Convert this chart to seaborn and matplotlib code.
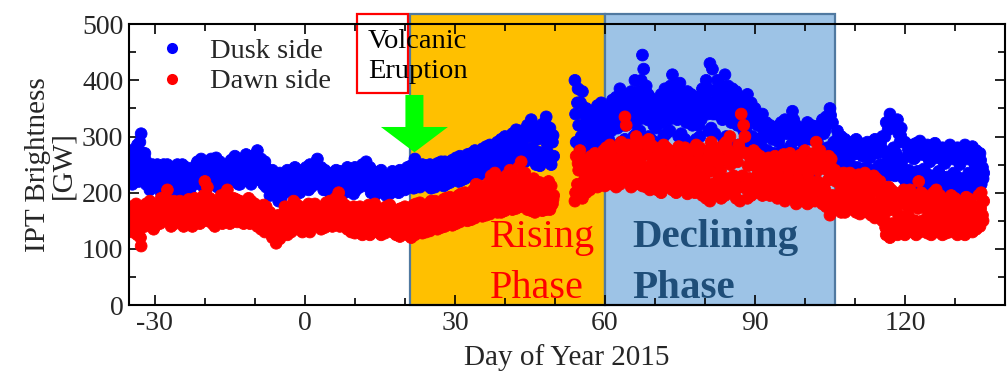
import numpy as np
import pandas as pd
import matplotlib
matplotlib.use("Agg")
import matplotlib.pyplot as plt
from matplotlib.patches import Rectangle, FancyArrow
from matplotlib.lines import Line2D
from matplotlib.ticker import MultipleLocator
import seaborn as sns

# ---------------- data (GW) ----------------
pre_days = list(range(-35, 50))     # day -35 .. 49
post_days = list(range(54, 136))    # day 54 .. 135
sub_day = np.array([0.0, 0.25, 0.5, 0.75])          # main samples, 4 per day
sub_order = [[0, 1, 2, 3], [2, 0, 3, 1], [1, 3, 0, 2]]
extra_sub = np.array([0.125, 0.625])                # extra samples, 2 per day

dusk_pre = [
    230, 275, 215, 255,  285, 240, 220, 265,  305, 250, 290, 225,  270, 215, 245, 230,
    250, 205, 235, 220,  245, 210, 230, 250,  240, 200, 225, 250,  250, 215, 235, 205,
    245, 200, 230, 220,  235, 195, 250, 215,  250, 210, 230, 200,  245, 205, 225, 240,
    200, 235, 190, 220,  255, 215, 240, 225,  260, 210, 235, 250,  245, 205, 255, 225,
    250, 215, 235, 260,  262, 220, 240, 210,  255, 215, 245, 230,  250, 210, 240, 225,
    258, 220, 235, 250,  265, 225, 245, 215,  260, 215, 240, 250,  268, 220, 245, 230,
    255, 215, 265, 235,  275, 225, 250, 265,  260, 215, 245, 230,  255, 210, 235, 225,
    240, 195, 220, 205,  230, 185, 215, 200,  235, 190, 220, 205,  240, 200, 225, 210,
    235, 200, 220, 210,  245, 205, 225, 235,  240, 200, 220, 230,  245, 205, 230, 215,
    250, 210, 235, 220,  260, 215, 240, 230,  245, 205, 225, 235,  240, 205, 220, 230,
    235, 200, 225, 215,  240, 210, 230, 220,  238, 205, 225, 215,  245, 200, 230, 215,
    240, 198, 220, 230,  245, 205, 225, 215,  250, 210, 235, 220,  255, 210, 240, 225,
    245, 200, 230, 215,  235, 195, 220, 205,  240, 200, 225, 210,  230, 195, 215, 205,
    238, 198, 220, 228,  235, 200, 215, 225,  240, 205, 225, 215,  245, 205, 230, 220,
    248, 208, 235, 220,  260, 210, 240, 225,  250, 210, 235, 225,  248, 212, 232, 222,
    250, 208, 235, 220,  252, 210, 238, 225,  255, 212, 240, 228,  255, 215, 240, 230,
    258, 218, 245, 232,  262, 220, 248, 235,  265, 222, 250, 238,  268, 225, 255, 240,
    270, 228, 258, 245,  275, 230, 260, 248,  278, 232, 262, 250,  282, 235, 265, 252,
    285, 238, 268, 255,  290, 240, 272, 258,  295, 242, 278, 262,  300, 245, 280, 265,
    305, 250, 285, 270,  312, 252, 290, 272,  310, 248, 288, 270,  320, 255, 300, 275,
    330, 258, 305, 280,  318, 250, 295, 272,  322, 248, 300, 270,  335, 255, 310, 285,
    315, 250, 290, 265,
]
dusk_pre_extra = [
    242, 265,  230, 252,  238, 270,  222, 258,  212, 242,  220, 238,  212, 232,  225, 242,
    210, 238,  205, 225,  220, 240,  215, 232,  210, 228,  232, 248,  222, 242,  215, 235,
    225, 242,  230, 250,  222, 238,  218, 232,  228, 242,  235, 255,  228, 245,  238, 255,
    225, 245,  238, 258,  222, 238,  218, 245,  212, 230,  192, 222,  198, 228,  218, 232,
    205, 228,  215, 240,  210, 235,  222, 238,  228, 242,  222, 250,  215, 240,  212, 235,
    208, 230,  215, 235,  210, 232,  208, 238,  210, 235,  210, 235,  215, 242,  218, 248,
    208, 238,  200, 228,  205, 232,  200, 222,  208, 232,  208, 230,  210, 232,  212, 238,
    215, 242,  218, 250,  218, 242,  218, 240,  214, 242,  218, 245,  220, 248,  222, 248,
    225, 252,  228, 255,  230, 258,  232, 262,  236, 264,  238, 268,  240, 270,  244, 274,
    246, 276,  248, 280,  252, 286,  255, 290,  260, 295,  262, 300,  260, 298,  265, 310,
    268, 318,  262, 306,  258, 310,  270, 322,  258, 302,
]

dusk_post = [
    400, 290, 360, 320,  380, 280, 340, 300,  350, 275, 320, 295,  345, 270, 315, 290,
    355, 280, 325, 300,  360, 285, 330, 305,  350, 275, 335, 295,  365, 280, 340, 310,
    370, 285, 345, 315,  385, 290, 350, 320,  375, 295, 345, 320,  380, 300, 350, 325,
    400, 305, 360, 330,  445, 310, 420, 400,  390, 300, 360, 330,  370, 295, 345, 320,
    365, 290, 340, 315,  375, 300, 350, 325,  385, 305, 360, 330,  410, 310, 370, 340,
    390, 300, 360, 330,  395, 305, 365, 335,  380, 295, 355, 325,  375, 290, 350, 320,
    370, 295, 345, 320,  385, 300, 360, 330,  400, 310, 370, 340,  430, 315, 420, 380,
    400, 305, 370, 340,  390, 295, 360, 330,  410, 300, 370, 340,  385, 290, 355, 325,
    380, 285, 350, 320,  370, 280, 340, 310,  375, 275, 345, 315,  360, 270, 330, 300,
    350, 265, 320, 295,  340, 255, 310, 285,  325, 250, 300, 275,  320, 245, 295, 270,
    318, 245, 290, 268,  325, 250, 300, 275,  330, 248, 305, 278,  345, 250, 330, 285,
    320, 245, 295, 270,  315, 240, 290, 265,  325, 245, 300, 270,  320, 240, 295, 268,
    318, 238, 290, 265,  330, 245, 305, 275,  335, 250, 310, 280,  350, 255, 325, 290,
    310, 240, 285, 262,  300, 235, 275, 255,  295, 230, 270, 250,  290, 228, 268, 248,
    295, 225, 270, 245,  288, 220, 265, 242,  290, 222, 268, 245,  285, 218, 262, 240,
    295, 225, 270, 248,  300, 225, 275, 250,  325, 230, 300, 265,  340, 235, 315, 280,
    330, 230, 305, 270,  315, 225, 290, 258,  290, 215, 265, 240,  285, 210, 260, 235,
    288, 212, 262, 238,  292, 215, 268, 242,  285, 210, 260, 235,  280, 208, 255, 230,
    288, 210, 262, 238,  280, 205, 255, 230,  278, 205, 252, 228,  285, 210, 260, 235,
    280, 205, 255, 230,  275, 200, 250, 225,  285, 208, 260, 235,  282, 205, 255, 230,
    275, 210, 250, 232,  270, 215, 245, 235,
]
dusk_post_extra = [
    340, 385,  320, 360,  308, 335,  302, 332,  312, 342,  318, 347,  315, 345,  325, 352,
    330, 358,  335, 368,  332, 360,  338, 365,  345, 380,  340, 370,  345, 375,  332, 358,
    328, 352,  338, 362,  345, 372,  355, 390,  345, 375,  350, 380,  340, 368,  335, 362,
    332, 358,  345, 372,  355, 385,  340, 360,  355, 385,  345, 375,  355, 390,  340, 370,
    335, 365,  325, 355,  295, 360,  285, 345,  280, 335,  270, 325,  262, 312,  258, 308,
    256, 305,  262, 312,  262, 318,  268, 308,  258, 308,  252, 302,  258, 312,  254, 308,
    252, 304,  260, 318,  265, 322,  272, 338,  252, 298,  245, 288,  240, 282,  238, 280,
    235, 282,  232, 276,  234, 280,  230, 274,  236, 282,  238, 288,  248, 312,  258, 328,
    250, 318,  242, 302,  228, 278,  222, 272,  225, 275,  228, 280,  222, 272,  220, 268,
    224, 275,  218, 268,  216, 265,  222, 272,  218, 268,  212, 262,  220, 272,  218, 268,
    221, 262,  225, 258,
]

dawn_pre = [
    150, 175, 130, 160,  125, 170, 145, 180,  105, 160, 135, 175,  140, 180, 155, 165,
    145, 185, 135, 170,  150, 180, 140, 165,  145, 190, 155, 170,  205, 150, 180, 160,
    140, 185, 160, 170,  145, 180, 155, 170,  150, 185, 140, 168,  145, 188, 160, 172,
    150, 180, 140, 165,  148, 190, 160, 175,  155, 195, 145, 175,  220, 150, 210, 170,
    145, 190, 160, 175,  150, 185, 140, 170,  155, 195, 145, 175,  205, 150, 190, 165,
    150, 190, 145, 170,  155, 188, 148, 172,  150, 185, 145, 168,  148, 190, 155, 175,
    145, 185, 150, 170,  140, 180, 150, 165,  135, 178, 148, 162,  130, 175, 145, 160,
    120, 165, 135, 150,  110, 160, 125, 145,  118, 155, 130, 145,  125, 175, 140, 160,
    130, 185, 145, 165,  135, 180, 150, 165,  130, 175, 145, 160,  135, 180, 150, 165,
    130, 178, 148, 162,  140, 180, 150, 168,  135, 175, 145, 160,  138, 182, 150, 168,
    140, 185, 155, 170,  145, 200, 160, 180,  140, 185, 150, 170,  135, 178, 148, 162,
    130, 175, 145, 160,  128, 172, 142, 158,  125, 175, 140, 160,  130, 178, 145, 162,
    125, 170, 140, 155,  130, 180, 145, 165,  125, 172, 140, 158,  128, 175, 142, 160,
    130, 178, 145, 162,  125, 170, 140, 155,  122, 172, 138, 158,  125, 175, 140, 160,
    120, 178, 138, 162,  125, 180, 142, 165,  128, 182, 145, 168,  130, 180, 148, 165,
    132, 185, 150, 170,  135, 185, 152, 170,  138, 188, 155, 172,  140, 190, 158, 175,
    142, 192, 160, 178,  145, 195, 162, 180,  148, 198, 165, 182,  150, 200, 168, 185,
    152, 205, 170, 188,  155, 215, 172, 195,  158, 212, 175, 195,  160, 218, 178, 200,
    162, 230, 180, 205,  165, 235, 185, 210,  165, 225, 185, 205,  168, 230, 190, 210,
    170, 240, 192, 215,  172, 245, 195, 220,  175, 255, 200, 230,  170, 235, 190, 210,
    168, 225, 185, 205,  165, 220, 182, 200,  168, 218, 180, 198,  170, 220, 185, 200,
    170, 212, 180, 195,
]
dawn_pre_extra = [
    140, 168,  135, 158,  120, 148,  148, 172,  158, 178,  158, 172,  162, 180,  170, 192,
    150, 178,  162, 175,  158, 176,  152, 180,  158, 172,  155, 182,  165, 185,  160, 190,
    152, 182,  160, 178,  165, 185,  158, 178,  160, 180,  164, 180,  158, 176,  165, 182,
    160, 178,  158, 172,  155, 170,  152, 168,  128, 158,  135, 152,  124, 138,  150, 168,
    155, 175,  142, 172,  138, 168,  142, 172,  140, 170,  160, 174,  152, 168,  160, 175,
    162, 178,  170, 190,  160, 178,  155, 170,  138, 168,  135, 165,  150, 168,  138, 170,
    132, 162,  155, 172,  132, 165,  150, 168,  138, 170,  148, 162,  130, 165,  150, 168,
    130, 150,  155, 172,  136, 158,  155, 172,  160, 178,  143, 162,  165, 180,  148, 168,
    170, 185,  152, 172,  175, 190,  158, 178,  180, 196,  162, 185,  185, 204,  168, 190,
    192, 218,  175, 198,  195, 215,  178, 200,  182, 228,  185, 208,  188, 215,  180, 222,
    176, 195,  172, 210,  174, 190,  178, 210,  175, 188,
]

dawn_post = [
    185, 265, 215, 240,  190, 275, 220, 250,  200, 260, 225, 245,  205, 265, 230, 250,
    210, 270, 235, 255,  215, 275, 240, 258,  212, 280, 238, 260,  215, 285, 240, 262,
    210, 280, 235, 260,  215, 290, 240, 265,  220, 335, 250, 320,  210, 285, 240, 262,
    215, 300, 245, 270,  212, 290, 240, 265,  210, 295, 238, 268,  205, 285, 235, 260,
    205, 280, 232, 258,  200, 285, 230, 260,  210, 280, 235, 258,  205, 275, 230, 255,
    200, 282, 228, 258,  205, 275, 230, 255,  198, 280, 225, 255,  205, 278, 230, 255,
    200, 285, 228, 258,  195, 280, 225, 255,  190, 275, 220, 250,  185, 290, 215, 260,
    195, 280, 225, 255,  190, 285, 220, 258,  195, 290, 225, 262,  200, 300, 230, 270,
    190, 285, 220, 255,  185, 340, 230, 320,  190, 300, 225, 270,  195, 275, 225, 250,
    200, 270, 230, 250,  195, 265, 225, 245,  200, 262, 228, 245,  195, 260, 225, 242,
    190, 265, 220, 245,  195, 268, 225, 248,  185, 262, 215, 240,  190, 270, 220, 248,
    180, 265, 210, 240,  185, 268, 215, 242,  180, 275, 212, 250,  185, 270, 215, 245,
    185, 290, 220, 260,  180, 275, 210, 250,  175, 265, 205, 240,  160, 260, 195, 235,
    170, 240, 195, 220,  165, 235, 190, 215,  165, 230, 188, 210,  170, 235, 192, 215,
    165, 232, 190, 212,  162, 230, 185, 210,  165, 235, 190, 215,  160, 230, 185, 210,
    155, 225, 180, 205,  150, 220, 175, 200,  125, 210, 150, 185,  120, 205, 145, 180,
    125, 200, 148, 178,  130, 205, 150, 180,  125, 200, 148, 175,  130, 205, 150, 180,
    125, 220, 150, 195,  130, 200, 150, 178,  128, 195, 148, 175,  125, 200, 145, 178,
    130, 205, 150, 180,  125, 195, 145, 172,  128, 190, 148, 170,  130, 195, 150, 175,
    125, 190, 145, 170,  128, 185, 148, 168,  125, 192, 145, 170,  130, 188, 148, 168,
    135, 195, 155, 175,  140, 200, 160, 185,
]
dawn_post_extra = [
    200, 252,  205, 262,  212, 235,  218, 258,  222, 245,  228, 266,  225, 250,  228, 272,
    222, 248,  228, 278,  235, 285,  225, 272,  230, 285,  226, 252,  224, 282,  220, 248,
    218, 270,  215, 245,  222, 268,  218, 242,  214, 270,  218, 242,  212, 268,  218, 242,
    214, 272,  210, 240,  205, 262,  200, 238,  210, 268,  205, 240,  210, 276,  215, 250,
    205, 270,  210, 275,  208, 248,  210, 262,  215, 240,  210, 255,  214, 236,  210, 252,
    205, 232,  210, 258,  200, 228,  205, 258,  195, 225,  200, 255,  196, 232,  200, 258,
    202, 240,  195, 262,  190, 222,  178, 248,  182, 230,  178, 202,  176, 220,  180, 204,
    178, 222,  174, 198,  178, 225,  172, 198,  168, 215,  162, 188,  138, 168,  132, 192,
    136, 162,  140, 192,  136, 162,  140, 192,  138, 172,  140, 188,  138, 162,  135, 188,
    140, 165,  135, 184,  138, 160,  140, 185,  135, 158,  138, 176,  135, 158,  138, 178,
    145, 165,  150, 172,
]

x_ticks = [-30, 0, 30, 60, 90, 120]
y_ticks = [0, 100, 200, 300, 400, 500]
series_labels = ["Dusk side", "Dawn side"]
series_colors = {"Dusk side": "#0000FF", "Dawn side": "#FF0000"}
rising_phase = (21, 60)
declining_phase = (60, 106)


def sample_times(days, offsets, orders):
    t = []
    for i, d in enumerate(days):
        t.extend(d + offsets[orders[i % len(orders)]])
    return np.array(t)


t_pre = sample_times(pre_days, sub_day, sub_order)
t_post = sample_times(post_days, sub_day, sub_order)
te_pre = sample_times(pre_days, extra_sub, [[0, 1], [1, 0]])
te_post = sample_times(post_days, extra_sub, [[0, 1], [1, 0]])

df = pd.concat([
    pd.DataFrame({"doy": np.r_[t_pre, te_pre, t_post, te_post],
                  "gw": dusk_pre + dusk_pre_extra + dusk_post + dusk_post_extra,
                  "side": "Dusk side"}),
    pd.DataFrame({"doy": np.r_[t_pre, te_pre, t_post, te_post],
                  "gw": dawn_pre + dawn_pre_extra + dawn_post + dawn_post_extra,
                  "side": "Dawn side"}),
], ignore_index=True)

# ---------------- style ----------------
sns.set_style("ticks")
plt.rcParams["font.family"] = ["Liberation Serif", "DejaVu Serif"]
plt.rcParams["axes.unicode_minus"] = False

fig = plt.figure(figsize=(10.07, 3.72), dpi=100)
ax = fig.add_axes([0.128, 0.180, 0.870, 0.755])

edge_c = "#5079A0"
ax.add_patch(Rectangle((rising_phase[0], 0), rising_phase[1] - rising_phase[0], 518,
                       facecolor="#FFC000", edgecolor=edge_c, lw=1.6,
                       clip_on=False, zorder=0.5))
ax.add_patch(Rectangle((declining_phase[0], 0), declining_phase[1] - declining_phase[0], 518,
                       facecolor="#9DC3E6", edgecolor=edge_c, lw=1.6,
                       clip_on=False, zorder=0.5))

sns.scatterplot(data=df, x="doy", y="gw", hue="side", palette=series_colors,
                hue_order=series_labels, s=72, linewidth=0.6, alpha=1,
                legend=False, ax=ax, zorder=2)
for coll in ax.collections:
    coll.set_edgecolor("face")

# annotations
ax.add_patch(Rectangle((10.4, 377), 10.2, 141, facecolor="none",
                       edgecolor="#FF0000", lw=1.6, clip_on=False, zorder=3))
ax.text(12.6, 457, "Volcanic", fontsize=20.5, color="black", va="baseline", zorder=4)
ax.text(12.6, 404, "Eruption", fontsize=20.5, color="black", va="baseline", zorder=4)
ax.add_patch(FancyArrow(21.9, 374, 0, -102, width=3.6, head_width=13.4,
                        head_length=45, length_includes_head=True,
                        color="#00FF00", lw=0, zorder=4))
ax.text(37, 103, "Rising", fontsize=29, color="#FF0000", va="baseline", zorder=4)
ax.text(37, 13, "Phase", fontsize=29, color="#FF0000", va="baseline", zorder=4)
ax.text(65.4, 103, "Declining", fontsize=29.5, color="#1F4E79",
        fontweight="bold", va="baseline", zorder=4)
ax.text(65.4, 12, "Phase", fontsize=29.5, color="#1F4E79",
        fontweight="bold", va="baseline", zorder=4)

handles = [Line2D([], [], ls="none", marker="o", ms=8, mec="none",
                  mfc=series_colors[k], label=k) for k in series_labels]
ax.legend(handles=handles, loc="upper left", bbox_to_anchor=(0.0, 0.985),
          frameon=False, fontsize=20.5, borderaxespad=0.1, borderpad=0.25,
          handlelength=2.3, handletextpad=0.2, labelspacing=0.15)

# axes
ax.set_xlim(-35.2, 140)
ax.set_ylim(0, 500)
ax.set_xticks(x_ticks)
ax.set_yticks(y_ticks)
ax.xaxis.set_minor_locator(MultipleLocator(10))
ax.yaxis.set_minor_locator(MultipleLocator(50))
ax.tick_params(which="both", direction="in", top=True, right=True,
               labelsize=20, width=1.2, color="black", pad=4)
ax.tick_params(which="major", length=7)
ax.tick_params(which="minor", length=5)
for sp in ax.spines.values():
    sp.set_linewidth(1.5)
    sp.set_color("black")
    sp.set_zorder(5)
ax.set_xlabel("Day of Year 2015", fontsize=21, labelpad=6)
ax.set_ylabel("IPT Brightness\n[GW]", fontsize=21, linespacing=0.95, labelpad=4)

fig.savefig("out.png", dpi=100)
